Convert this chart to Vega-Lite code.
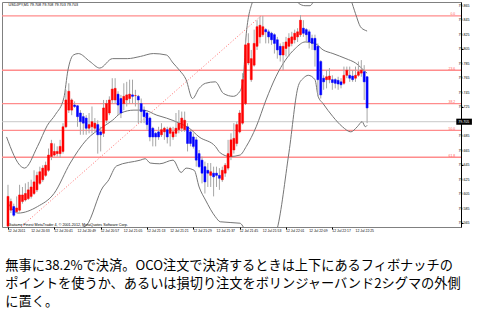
{
"$schema": "https://vega.github.io/schema/vega-lite/v6.json",
"width": 459, "height": 225,
"autosize": "none",
"padding": {"left": 2, "top": 2, "right": 17, "bottom": 88},
"background": "white",
"view": {"stroke": "#808080", "strokeWidth": 1},
"config": {"font": "Liberation Sans"},
"title": {"text": ["無事に38.2%で決済。OCO注文で決済するときは上下にあるフィボナッチの", "ポイントを使うか、あるいは損切り注文をボリンジャーバンド2シグマの外側", "に置く。"], "orient": "bottom", "anchor": "start", "frame": "bounds", "font": "Noto Sans CJK JP", "fontSize": 13.2, "fontWeight": "normal", "color": "#000000", "lineHeight": 18, "offset": 28, "dx": 4},
"datasets": {
"candles": [
{"i":0,"o":79.561,"h":79.618,"l":79.558,"c":79.602},
{"i":1,"o":79.583,"h":79.599,"l":79.579,"c":79.595},
{"i":2,"o":79.588,"h":79.592,"l":79.574,"c":79.576},
{"i":3,"o":79.581,"h":79.602,"l":79.579,"c":79.586},
{"i":4,"o":79.583,"h":79.618,"l":79.581,"c":79.604},
{"i":5,"o":79.595,"h":79.615,"l":79.592,"c":79.604},
{"i":6,"o":79.597,"h":79.620,"l":79.595,"c":79.606},
{"i":7,"o":79.599,"h":79.622,"l":79.597,"c":79.611},
{"i":8,"o":79.602,"h":79.625,"l":79.599,"c":79.615},
{"i":9,"o":79.606,"h":79.638,"l":79.604,"c":79.622},
{"i":10,"o":79.611,"h":79.636,"l":79.608,"c":79.631},
{"i":11,"o":79.620,"h":79.643,"l":79.618,"c":79.636},
{"i":12,"o":79.625,"h":79.645,"l":79.622,"c":79.641},
{"i":13,"o":79.631,"h":79.650,"l":79.629,"c":79.645},
{"i":14,"o":79.638,"h":79.668,"l":79.636,"c":79.659},
{"i":15,"o":79.657,"h":79.680,"l":79.652,"c":79.675},
{"i":16,"o":79.659,"h":79.675,"l":79.657,"c":79.664},
{"i":17,"o":79.661,"h":79.671,"l":79.657,"c":79.664},
{"i":18,"o":79.661,"h":79.680,"l":79.655,"c":79.671},
{"i":19,"o":79.664,"h":79.703,"l":79.661,"c":79.698},
{"i":20,"o":79.698,"h":79.749,"l":79.696,"c":79.735},
{"i":21,"o":79.721,"h":79.758,"l":79.717,"c":79.747},
{"i":22,"o":79.721,"h":79.737,"l":79.714,"c":79.735},
{"i":23,"o":79.728,"h":79.733,"l":79.724,"c":79.726},
{"i":24,"o":79.727,"h":79.728,"l":79.698,"c":79.712},
{"i":25,"o":79.717,"h":79.721,"l":79.687,"c":79.705},
{"i":26,"o":79.712,"h":79.717,"l":79.687,"c":79.703},
{"i":27,"o":79.710,"h":79.714,"l":79.687,"c":79.696},
{"i":28,"o":79.696,"h":79.717,"l":79.689,"c":79.701},
{"i":29,"o":79.698,"h":79.726,"l":79.689,"c":79.705},
{"i":30,"o":79.696,"h":79.710,"l":79.691,"c":79.703},
{"i":31,"o":79.701,"h":79.707,"l":79.661,"c":79.687},
{"i":32,"o":79.691,"h":79.698,"l":79.664,"c":79.687},
{"i":33,"o":79.689,"h":79.735,"l":79.684,"c":79.724},
{"i":34,"o":79.707,"h":79.735,"l":79.703,"c":79.730},
{"i":35,"o":79.717,"h":79.740,"l":79.714,"c":79.735},
{"i":36,"o":79.735,"h":79.765,"l":79.730,"c":79.750},
{"i":37,"o":79.735,"h":79.765,"l":79.730,"c":79.751},
{"i":38,"o":79.743,"h":79.747,"l":79.714,"c":79.728},
{"i":39,"o":79.737,"h":79.742,"l":79.710,"c":79.717},
{"i":40,"o":79.730,"h":79.758,"l":79.721,"c":79.740},
{"i":41,"o":79.735,"h":79.760,"l":79.726,"c":79.742},
{"i":42,"o":79.737,"h":79.763,"l":79.730,"c":79.743},
{"i":43,"o":79.742,"h":79.763,"l":79.730,"c":79.740},
{"i":44,"o":79.741,"h":79.749,"l":79.726,"c":79.741},
{"i":45,"o":79.740,"h":79.742,"l":79.703,"c":79.735},
{"i":46,"o":79.730,"h":79.737,"l":79.703,"c":79.719},
{"i":47,"o":79.721,"h":79.726,"l":79.703,"c":79.712},
{"i":48,"o":79.717,"h":79.719,"l":79.694,"c":79.701},
{"i":49,"o":79.710,"h":79.712,"l":79.678,"c":79.684},
{"i":50,"o":79.696,"h":79.698,"l":79.671,"c":79.684},
{"i":51,"o":79.689,"h":79.691,"l":79.671,"c":79.684},
{"i":52,"o":79.691,"h":79.698,"l":79.680,"c":79.684},
{"i":53,"o":79.687,"h":79.703,"l":79.684,"c":79.694},
{"i":54,"o":79.691,"h":79.698,"l":79.680,"c":79.696},
{"i":55,"o":79.694,"h":79.698,"l":79.675,"c":79.684},
{"i":56,"o":79.689,"h":79.698,"l":79.671,"c":79.696},
{"i":57,"o":79.684,"h":79.698,"l":79.680,"c":79.691},
{"i":58,"o":79.689,"h":79.717,"l":79.684,"c":79.696},
{"i":59,"o":79.694,"h":79.721,"l":79.689,"c":79.703},
{"i":60,"o":79.696,"h":79.719,"l":79.691,"c":79.710},
{"i":61,"o":79.694,"h":79.719,"l":79.691,"c":79.707},
{"i":62,"o":79.698,"h":79.703,"l":79.664,"c":79.675},
{"i":63,"o":79.691,"h":79.694,"l":79.671,"c":79.675},
{"i":64,"o":79.684,"h":79.689,"l":79.668,"c":79.671},
{"i":65,"o":79.680,"h":79.684,"l":79.643,"c":79.652},
{"i":66,"o":79.661,"h":79.666,"l":79.641,"c":79.643},
{"i":67,"o":79.652,"h":79.657,"l":79.620,"c":79.634},
{"i":68,"o":79.643,"h":79.650,"l":79.606,"c":79.622},
{"i":69,"o":79.638,"h":79.648,"l":79.615,"c":79.634},
{"i":70,"o":79.631,"h":79.648,"l":79.615,"c":79.636},
{"i":71,"o":79.634,"h":79.643,"l":79.602,"c":79.629},
{"i":72,"o":79.634,"h":79.643,"l":79.615,"c":79.631},
{"i":73,"o":79.631,"h":79.641,"l":79.611,"c":79.627},
{"i":74,"o":79.625,"h":79.643,"l":79.622,"c":79.638},
{"i":75,"o":79.634,"h":79.648,"l":79.629,"c":79.645},
{"i":76,"o":79.641,"h":79.680,"l":79.638,"c":79.661},
{"i":77,"o":79.657,"h":79.689,"l":79.652,"c":79.680},
{"i":78,"o":79.666,"h":79.703,"l":79.661,"c":79.682},
{"i":79,"o":79.675,"h":79.705,"l":79.671,"c":79.701},
{"i":80,"o":79.691,"h":79.721,"l":79.689,"c":79.717},
{"i":81,"o":79.703,"h":79.772,"l":79.701,"c":79.763},
{"i":82,"o":79.730,"h":79.818,"l":79.728,"c":79.811},
{"i":83,"o":79.786,"h":79.827,"l":79.783,"c":79.813},
{"i":84,"o":79.763,"h":79.804,"l":79.760,"c":79.792},
{"i":85,"o":79.783,"h":79.832,"l":79.781,"c":79.813},
{"i":86,"o":79.809,"h":79.845,"l":79.804,"c":79.836},
{"i":87,"o":79.822,"h":79.850,"l":79.813,"c":79.838},
{"i":88,"o":79.825,"h":79.851,"l":79.822,"c":79.836},
{"i":89,"o":79.832,"h":79.834,"l":79.813,"c":79.829},
{"i":90,"o":79.829,"h":79.832,"l":79.813,"c":79.822},
{"i":91,"o":79.827,"h":79.829,"l":79.811,"c":79.818},
{"i":92,"o":79.825,"h":79.827,"l":79.799,"c":79.813},
{"i":93,"o":79.818,"h":79.822,"l":79.792,"c":79.804},
{"i":94,"o":79.809,"h":79.813,"l":79.788,"c":79.797},
{"i":95,"o":79.797,"h":79.815,"l":79.776,"c":79.809},
{"i":96,"o":79.806,"h":79.822,"l":79.795,"c":79.815},
{"i":97,"o":79.809,"h":79.827,"l":79.795,"c":79.820},
{"i":98,"o":79.813,"h":79.829,"l":79.809,"c":79.822},
{"i":99,"o":79.818,"h":79.832,"l":79.813,"c":79.827},
{"i":100,"o":79.822,"h":79.834,"l":79.815,"c":79.829},
{"i":101,"o":79.825,"h":79.852,"l":79.822,"c":79.845},
{"i":102,"o":79.834,"h":79.845,"l":79.822,"c":79.827},
{"i":103,"o":79.832,"h":79.834,"l":79.815,"c":79.825},
{"i":104,"o":79.829,"h":79.832,"l":79.806,"c":79.815},
{"i":105,"o":79.820,"h":79.825,"l":79.804,"c":79.813},
{"i":106,"o":79.820,"h":79.825,"l":79.781,"c":79.804},
{"i":107,"o":79.809,"h":79.813,"l":79.740,"c":79.763},
{"i":108,"o":79.788,"h":79.790,"l":79.737,"c":79.742},
{"i":109,"o":79.765,"h":79.769,"l":79.749,"c":79.760},
{"i":110,"o":79.763,"h":79.776,"l":79.751,"c":79.767},
{"i":111,"o":79.763,"h":79.779,"l":79.758,"c":79.768},
{"i":112,"o":79.763,"h":79.769,"l":79.749,"c":79.759},
{"i":113,"o":79.763,"h":79.765,"l":79.751,"c":79.758},
{"i":114,"o":79.762,"h":79.767,"l":79.749,"c":79.757},
{"i":115,"o":79.760,"h":79.765,"l":79.751,"c":79.756},
{"i":116,"o":79.758,"h":79.781,"l":79.756,"c":79.769},
{"i":117,"o":79.769,"h":79.781,"l":79.765,"c":79.776},
{"i":118,"o":79.769,"h":79.781,"l":79.760,"c":79.765},
{"i":119,"o":79.768,"h":79.776,"l":79.760,"c":79.763},
{"i":120,"o":79.765,"h":79.781,"l":79.760,"c":79.769},
{"i":121,"o":79.769,"h":79.788,"l":79.767,"c":79.774},
{"i":122,"o":79.772,"h":79.790,"l":79.767,"c":79.776},
{"i":123,"o":79.774,"h":79.783,"l":79.735,"c":79.760},
{"i":124,"o":79.767,"h":79.768,"l":79.703,"c":79.724}
],
"bands": [
{"b":"u","i":-0.5,"v":79.684},{"b":"u","i":4.6,"v":79.643},{"b":"u","i":5.7,"v":79.641},{"b":"u","i":10.2,"v":79.671},{"b":"u","i":13.6,"v":79.700},{"b":"u","i":16.4,"v":79.715},{"b":"u","i":19.3,"v":79.738},{"b":"u","i":20.7,"v":79.776},{"b":"u","i":22.6,"v":79.797},{"b":"u","i":24.3,"v":79.799},{"b":"u","i":28.3,"v":79.788},{"b":"u","i":31.7,"v":79.779},{"b":"u","i":36.1,"v":79.792},{"b":"u","i":41.2,"v":79.792},{"b":"u","i":45.7,"v":79.795},{"b":"u","i":50.2,"v":79.799},{"b":"u","i":54.7,"v":79.797},{"b":"u","i":57,"v":79.786},{"b":"u","i":59.2,"v":79.776},{"b":"u","i":61.5,"v":79.763},{"b":"u","i":63.7,"v":79.737},{"b":"u","i":66,"v":79.751},{"b":"u","i":68.2,"v":79.758},{"b":"u","i":71.6,"v":79.760},{"b":"u","i":74.4,"v":79.744},{"b":"u","i":77.8,"v":79.740},{"b":"u","i":80.1,"v":79.747},{"b":"u","i":81.2,"v":79.763},{"b":"u","i":82.3,"v":79.827},{"b":"u","i":84.6,"v":79.873},{"b":"u","i":88,"v":79.900},{"b":"u","i":94,"v":79.910},{"b":"u","i":98,"v":79.885},{"b":"u","i":100.3,"v":79.8685},{"b":"u","i":102.6,"v":79.865},{"b":"u","i":104.3,"v":79.865},{"b":"u","i":105.4,"v":79.870},{"b":"u","i":108,"v":79.890},{"b":"u","i":113,"v":79.900},{"b":"u","i":116,"v":79.890},{"b":"u","i":118.4,"v":79.873},{"b":"u","i":120,"v":79.854},{"b":"u","i":121.7,"v":79.836},{"b":"u","i":123.4,"v":79.831},{"b":"u","i":124,"v":79.830},
{"b":"m","i":0.1,"v":79.592},{"b":"m","i":3.5,"v":79.579},{"b":"m","i":10.2,"v":79.588},{"b":"m","i":15.9,"v":79.606},{"b":"m","i":21.5,"v":79.648},{"b":"m","i":27.1,"v":79.680},{"b":"m","i":32.8,"v":79.698},{"b":"m","i":36.1,"v":79.707},{"b":"m","i":39,"v":79.717},{"b":"m","i":43.5,"v":79.721},{"b":"m","i":46.8,"v":79.721},{"b":"m","i":51.4,"v":79.714},{"b":"m","i":54.7,"v":79.710},{"b":"m","i":59.2,"v":79.703},{"b":"m","i":62.6,"v":79.696},{"b":"m","i":66,"v":79.684},{"b":"m","i":71.6,"v":79.671},{"b":"m","i":73.3,"v":79.662},{"b":"m","i":76.7,"v":79.657},{"b":"m","i":80.1,"v":79.659},{"b":"m","i":82.3,"v":79.671},{"b":"m","i":85.7,"v":79.698},{"b":"m","i":89.1,"v":79.735},{"b":"m","i":92.5,"v":79.767},{"b":"m","i":95.8,"v":79.790},{"b":"m","i":99.2,"v":79.806},{"b":"m","i":102.6,"v":79.815},{"b":"m","i":106,"v":79.813},{"b":"m","i":108.8,"v":79.804},{"b":"m","i":112.2,"v":79.799},{"b":"m","i":116.7,"v":79.792},{"b":"m","i":120,"v":79.786},{"b":"m","i":123.4,"v":79.774},{"b":"m","i":124,"v":79.772},
{"b":"l","i":20,"v":79.530},{"b":"l","i":24,"v":79.545},{"b":"l","i":25.3,"v":79.558},{"b":"l","i":27.1,"v":79.562},{"b":"l","i":32.8,"v":79.615},{"b":"l","i":34.5,"v":79.623},{"b":"l","i":37.5,"v":79.644},{"b":"l","i":45.7,"v":79.652},{"b":"l","i":47.4,"v":79.654},{"b":"l","i":49.1,"v":79.648},{"b":"l","i":52.4,"v":79.647},{"b":"l","i":57,"v":79.652},{"b":"l","i":59.8,"v":79.635},{"b":"l","i":61.5,"v":79.641},{"b":"l","i":64.3,"v":79.638},{"b":"l","i":66,"v":79.615},{"b":"l","i":68.2,"v":79.597},{"b":"l","i":71.6,"v":79.574},{"b":"l","i":73.3,"v":79.567},{"b":"l","i":80.1,"v":79.565},{"b":"l","i":82,"v":79.555},{"b":"l","i":86,"v":79.530},{"b":"l","i":90,"v":79.530},{"b":"l","i":92,"v":79.545},{"b":"l","i":93,"v":79.558},{"b":"l","i":97,"v":79.662},{"b":"l","i":100.3,"v":79.755},{"b":"l","i":102,"v":79.765},{"b":"l","i":103.7,"v":79.769},{"b":"l","i":106,"v":79.763},{"b":"l","i":107.1,"v":79.740},{"b":"l","i":108.8,"v":79.730},{"b":"l","i":112.2,"v":79.712},{"b":"l","i":115.5,"v":79.698},{"b":"l","i":118.4,"v":79.691},{"b":"l","i":120.6,"v":79.698},{"b":"l","i":122.3,"v":79.705},{"b":"l","i":123.4,"v":79.698},{"b":"l","i":124,"v":79.700}
],
"fib": [
{"level":"0.0","p":79.851},{"level":"23.6","p":79.776},{"level":"38.2","p":79.730},{"level":"50.0","p":79.693},{"level":"61.8","p":79.656}
],
"trend": [{"i":4.5,"p":79.560},{"i":87.4,"p":79.851}],
"notes": [
{"i":0.2,"p":79.866,"t":"USDJPY,M1  79.708 79.708 79.703 79.703"},
{"i":0.2,"p":79.5626,"t":"Gaitame Finest MetaTrader 4, © 2001-2012, MetaQuotes Software Corp."}
],
"bid": [{"p":79.705,"t":"79.705"}],
"ylabels": [
{"p":79.565,"t":"79.565"},{"p":79.585,"t":"79.585"},{"p":79.605,"t":"79.605"},{"p":79.625,"t":"79.625"},{"p":79.645,"t":"79.645"},{"p":79.665,"t":"79.665"},{"p":79.685,"t":"79.685"},{"p":79.725,"t":"79.725"},{"p":79.745,"t":"79.745"},{"p":79.765,"t":"79.765"},{"p":79.785,"t":"79.785"},{"p":79.805,"t":"79.805"},{"p":79.825,"t":"79.825"},{"p":79.845,"t":"79.845"},{"p":79.865,"t":"79.865"}
],
"xlabels": [
{"i":0,"t":"12 Jul 2011"},{"i":8,"t":"12 Jul 20:33"},{"i":16,"t":"12 Jul 20:41"},{"i":24,"t":"12 Jul 20:49"},{"i":32,"t":"12 Jul 20:57"},{"i":40,"t":"12 Jul 21:05"},{"i":48,"t":"12 Jul 21:13"},{"i":56,"t":"12 Jul 21:21"},{"i":64,"t":"12 Jul 21:29"},{"i":72,"t":"12 Jul 21:37"},{"i":80,"t":"12 Jul 21:45"},{"i":88,"t":"12 Jul 21:53"},{"i":96,"t":"12 Jul 22:01"},{"i":104,"t":"12 Jul 22:09"},{"i":112,"t":"12 Jul 22:17"},{"i":120,"t":"12 Jul 22:25"}
]
},
"layer": [
{"data": {"name": "fib"}, "mark": {"type": "rule", "color": "#ff8c8c", "strokeWidth": 1.3},
 "encoding": {"y": {"field": "p", "type": "quantitative", "scale": {"domain": [79.5598, 79.8701], "nice": false, "zero": false},
  "axis": {"orient": "right", "values": [79.565,79.585,79.605,79.625,79.645,79.665,79.685,79.705,79.725,79.745,79.765,79.785,79.805,79.825,79.845,79.865], "labels": false, "tickSize": 2, "tickColor": "#000000", "domainColor": "#000000", "grid": false, "title": null}}}},
{"data": {"name": "fib"}, "mark": {"type": "text", "align": "right", "baseline": "bottom", "fontSize": 3.4, "color": "#ff5a5a", "dy": 0.5},
 "encoding": {"x": {"datum": 154.4, "type": "quantitative", "scale": {"domain": [-0.34, 154.7], "nice": false, "zero": false},
  "axis": {"orient": "bottom", "values": [0,8,16,24,32,40,48,56,64,72,80,88,96,104,112,120], "labels": false, "tickSize": 2, "tickColor": "#000000", "domain": false, "grid": false, "title": null}},
  "y": {"field": "p", "type": "quantitative"}, "text": {"field": "level"}}},
{"data": {"name": "bid"}, "mark": {"type": "rule", "color": "#c8c8c8", "strokeWidth": 1},
 "encoding": {"y": {"field": "p", "type": "quantitative"}}},
{"data": {"name": "trend"}, "mark": {"type": "line", "color": "#ff6e6e", "strokeWidth": 1, "strokeDash": [1, 2], "clip": true},
 "encoding": {"x": {"field": "i", "type": "quantitative"}, "y": {"field": "p", "type": "quantitative"}}},
{"data": {"name": "bands"}, "mark": {"type": "line", "color": "#767676", "strokeWidth": 1, "clip": true, "interpolate": "monotone"},
 "encoding": {"x": {"field": "i", "type": "quantitative"}, "y": {"field": "v", "type": "quantitative"}, "detail": {"field": "b"}, "order": {"field": "i"}}},
{"data": {"name": "candles"}, "mark": {"type": "rule", "color": "#a6a6a6", "strokeWidth": 1, "clip": true},
 "encoding": {"x": {"field": "i", "type": "quantitative"}, "y": {"field": "l", "type": "quantitative"}, "y2": {"field": "h"}}},
{"data": {"name": "candles"}, "mark": {"type": "bar", "size": 2, "strokeWidth": 0.5, "clip": true},
 "encoding": {"x": {"field": "i", "type": "quantitative"}, "y": {"field": "o", "type": "quantitative"}, "y2": {"field": "c"},
  "color": {"condition": {"test": "datum.c >= datum.o", "value": "#ff0000"}, "value": "#0000ff"},
  "stroke": {"condition": {"test": "datum.c >= datum.o", "value": "#ff0000"}, "value": "#0000ff"}}},
{"data": {"name": "bid"}, "mark": {"type": "rect", "color": "#000000"},
 "encoding": {"x": {"datum": 154.8, "type": "quantitative"}, "x2": {"datum": 160.2}, "y": {"datum": 79.7092, "type": "quantitative"}, "y2": {"datum": 79.7008}}},
{"data": {"name": "bid"}, "mark": {"type": "text", "align": "left", "baseline": "middle", "fontSize": 3.6, "color": "#ffffff"},
 "encoding": {"x": {"datum": 155.5, "type": "quantitative"}, "y": {"field": "p", "type": "quantitative"}, "text": {"field": "t"}}},
{"data": {"name": "ylabels"}, "mark": {"type": "text", "align": "left", "baseline": "middle", "fontSize": 3.6, "color": "#000000"},
 "encoding": {"x": {"datum": 155.6, "type": "quantitative"}, "y": {"field": "p", "type": "quantitative"}, "text": {"field": "t"}}},
{"data": {"name": "xlabels"}, "mark": {"type": "text", "align": "left", "baseline": "top", "fontSize": 3.4, "color": "#000000"},
 "encoding": {"x": {"field": "i", "type": "quantitative"}, "y": {"datum": 79.5572, "type": "quantitative"}, "text": {"field": "t"}}},
{"data": {"name": "notes"}, "mark": {"type": "text", "align": "left", "baseline": "middle", "fontSize": 3.7, "color": "#000000"},
 "encoding": {"x": {"field": "i", "type": "quantitative"}, "y": {"field": "p", "type": "quantitative"}, "text": {"field": "t"}}}
]
}
